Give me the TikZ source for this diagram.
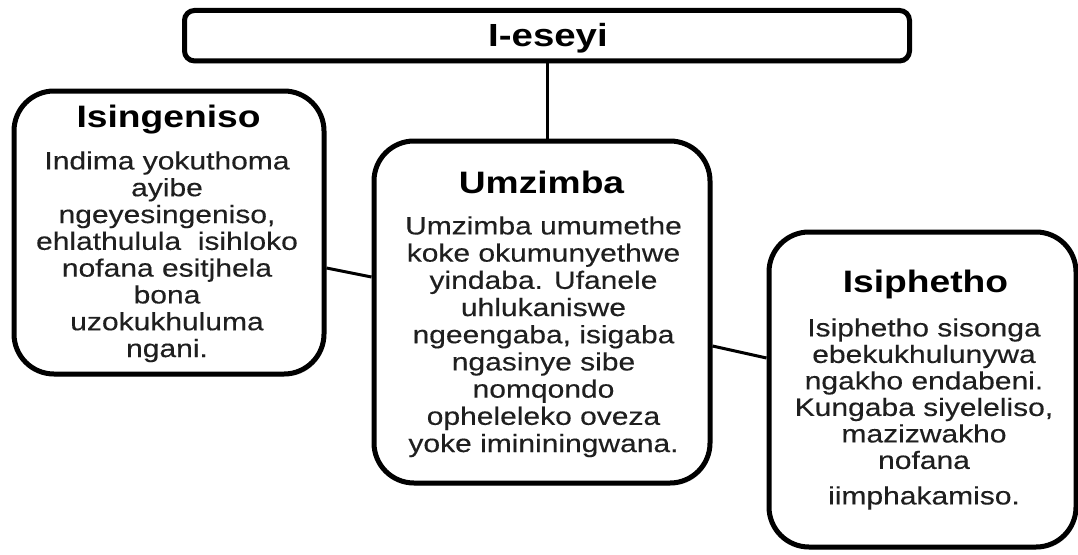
\documentclass[tikz,border=0pt]{standalone}
\usepackage{fontspec}
\setmainfont{Liberation Sans}[FakeStretch=1.2]
\newfontfamily\bodyfont{Liberation Sans}[FakeStretch=1.2,FakeBold=0.3]
\usetikzlibrary{shadows,calc}
\begin{document}
\begin{tikzpicture}[x=1pt,y=-1pt,
  box/.style={draw=black, line width=5pt, fill=white, rounded corners=40pt, inner sep=0pt,
    drop shadow={shadow xshift=1.5pt, shadow yshift=-2.5pt, opacity=0.3}},
  ttl/.style={font=\bfseries\fontsize{31}{34}\selectfont, inner sep=0pt, anchor=base},
  txt/.style={font=\bodyfont\fontsize{25}{26.8}\selectfont, text=black!88, align=center, inner sep=0pt, anchor=north},
  link/.style={line width=3pt}]
\useasboundingbox (0,0) rectangle (1078,554);
% boxes
\node[box, rounded corners=10pt, minimum width=725pt, minimum height=50.5pt] (top) at (547,35.7) {};
\node[box, minimum width=310pt, minimum height=283pt] (intro) at (169,232.5) {};
\node[box, minimum width=336pt, minimum height=342pt] (body) at (542,312) {};
\node[box, minimum width=307pt, minimum height=315pt] (concl) at (922.5,389.5) {};
% connectors
\draw[link] (top.south) -- (top.south |- body.north);
\draw[link] ([yshift=-35.5pt]intro.east) -- ([yshift=35pt]body.west);
\draw[link] ([yshift=-34pt]body.east) -- ([yshift=31.5pt]concl.west);
% texts
\node[ttl, font=\bfseries\fontsize{32}{34}\selectfont] (toptitle) at (548,46.5) {I-eseyi};
\node[ttl] (introtitle) at (168.5,127) {Isingeniso};
\node[txt] (introtext) at (167,151.1) {Indima yokuthoma\\ayibe\\ngeyesingeniso,\\ehlathulula\ \ isihloko\\nofana esitjhela\\bona\\uzokukhuluma\\ngani.};
\node[ttl] (bodytitle) at (541.5,193) {Umzimba};
\node[txt, font=\bodyfont\fontsize{25}{27.2}\selectfont] (bodytext) at (543.5,216.1) {Umzimba umumethe\\koke okumunyethwe\\yindaba. Ufanele\\uhlukaniswe\\ngeengaba, isigaba\\ngasinye sibe\\nomqondo\\opheleleko oveza\\yoke imininingwana.};
\node[ttl] (concltitle) at (925.5,292) {Isiphetho};
\node[txt, font=\bodyfont\fontsize{25}{26.5}\selectfont] (concltext) at (924,318.1) {Isiphetho sisonga\\ebekukhulunywa\\ngakho endabeni.\\Kungaba siyeleliso,\\mazizwakho\\nofana\\[9pt]iimphakamiso.};
\end{tikzpicture}
\end{document}
